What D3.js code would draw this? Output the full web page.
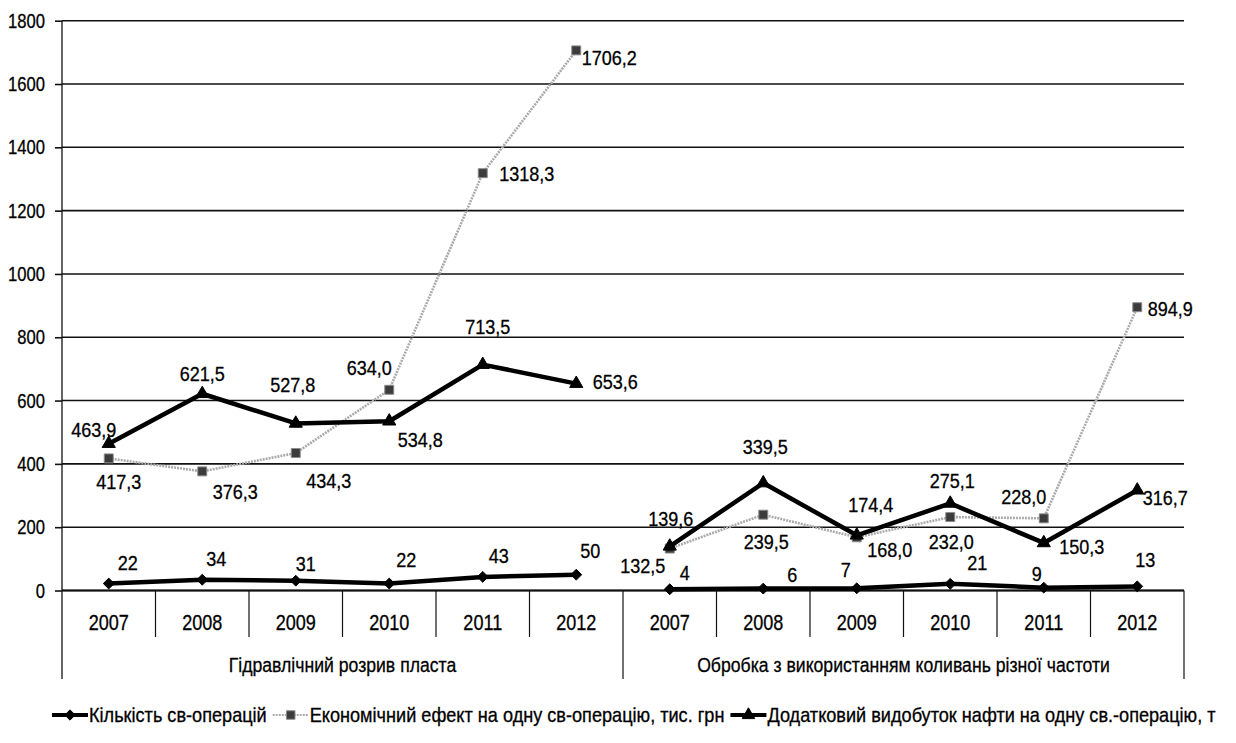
<!DOCTYPE html>
<html><head><meta charset="utf-8">
<script src="https://cdn.jsdelivr.net/npm/d3@7/dist/d3.min.js"></script>
<style>
body{margin:0;background:#fff}
text{font-family:"Liberation Sans Narrow","Arial Narrow","Liberation Sans",Arial,sans-serif;fill:#000;stroke:#000;stroke-width:0.3px}
</style>
</head><body>
<svg id="chart" width="1236" height="743"></svg>
<script>
// ---- data ----
const groups = ["Гідравлічний розрив пласта", "Обробка з використанням коливань різної частоти"];
const years = ["2007", "2008", "2009", "2010", "2011", "2012"];
const yTicks = [0, 200, 400, 600, 800, 1000, 1200, 1400, 1600, 1800];
const seriesNames = ["Кількість св-операцій", "Економічний ефект на одну св-операцію, тис. грн", "Додатковий видобуток нафти на одну св.-операцію, т"];
const countOps   = [22, 34, 31, 22, 43, 50, 4, 6, 7, 21, 9, 13];
const econEffect = [417.3, 376.3, 434.3, 634.0, 1318.3, 1706.2, 132.5, 239.5, 168.0, 232.0, 228.0, 894.9];
const extraOil   = [463.9, 621.5, 527.8, 534.8, 713.5, 653.6, 139.6, 339.5, 174.4, 275.1, 150.3, 316.7];

// ---- label placement (offset of label centre from its point) ----
const countLabelOff = [[19,-21],[14,-21],[10,-17],[17,-24],[16,-21],[14,-24],[15,-17],[29,-14],[-11,-19],[27,-21],[-7,-14],[8,-27]];
const econLabelOff  = [[10,23],[33,20],[33,28],[-20,-22],[44,0],[33,7],[-27,17],[3,27],[33,12],[1,25],[-20,-22],[33,1]];
const oilLabelOff   = [[-15,-14],[0,-20],[-3,-39],[31,18],[5,-38],[39,-2],[1,-28],[2,-36],[14,-31],[2,-23],[38,4],[28,7]];

// ---- layout ----
const L = 62, R = 1184, T = 20.7, B = 590.5;
const svg = d3.select("#chart");
const cats = d3.range(groups.length * years.length);
const x = d3.scaleBand().domain(cats).range([L, R]);
const y = d3.scaleLinear().domain([0, 1800]).range([B, T]);
const cx = i => x(i) + x.bandwidth() / 2;

// condensed text helper
function ctext(parent, px, py, str, size, sx, anchor) {
  const g = parent.append("g").attr("transform", `translate(${px},${py}) scale(${sx},1)`);
  return g.append("text").attr("x", 0).attr("y", 0).attr("dy", "0.35em")
    .attr("text-anchor", anchor || "middle").style("font-size", size + "px").text(str);
}

// gridlines
svg.append("g").selectAll("line").data(yTicks).join("line")
  .attr("x1", L).attr("x2", R).attr("y1", d => y(d)).attr("y2", d => y(d))
  .attr("stroke", "#111").attr("stroke-width", 1.6);

// y axis (ticks from d3 axis, labels condensed)
const yAxis = svg.append("g").attr("transform", `translate(${L},0)`)
  .call(d3.axisLeft(y).tickValues(yTicks).tickSizeInner(7).tickSizeOuter(0).tickFormat(""));
yAxis.select(".domain").remove();
yAxis.selectAll("line").attr("stroke", "#111").attr("stroke-width", 1.6);
const yLab = svg.append("g");
yTicks.forEach(t => ctext(yLab, 45, y(t), d3.format("d")(t), 20, 0.83, "end"));
svg.append("line").attr("x1", L).attr("x2", L).attr("y1", T).attr("y2", 679).attr("stroke", "#111").attr("stroke-width", 1.3);

// category axis
const xAxisG = svg.append("g");
xAxisG.append("line").attr("x1", L).attr("x2", R).attr("y1", B).attr("y2", B).attr("stroke", "#111").attr("stroke-width", 2);
cats.forEach(i => {
  const xb = x(i);
  const isGroupEdge = i % years.length === 0;
  if (i > 0) xAxisG.append("line").attr("x1", xb).attr("x2", xb).attr("y1", B).attr("y2", isGroupEdge ? 679 : 637)
    .attr("stroke", "#111").attr("stroke-width", 1.2);
  ctext(xAxisG, cx(i), 622, years[i % years.length], 21.5, 0.84);
});
xAxisG.append("line").attr("x1", R).attr("x2", R).attr("y1", B).attr("y2", 679).attr("stroke", "#111").attr("stroke-width", 1.2);
groups.forEach((g, gi) => {
  const x0 = x(gi * years.length), x1 = x(gi * years.length + years.length - 1) + x.bandwidth();
  ctext(xAxisG, (x0 + x1) / 2, 665, g, 21, 0.84);
});

// ---- series ----
const fmt1 = v => d3.format(".1f")(v).replace(".", ",");
const fmt0 = v => d3.format("d")(v);
const series = [
  {vals: countOps, fmt: fmt0, off: countLabelOff, color: "#000", width: 4.5, marker: d3.symbolDiamond2, msize: 75, mfill: "#000", mstroke: "#000", dash: null},
  {vals: econEffect, fmt: fmt1, off: econLabelOff, color: "#ababab", width: 2.6, marker: d3.symbolSquare, msize: 80, mfill: "#3c3c3c", mstroke: "#8a8a8a", dash: "2,1"},
  {vals: extraOil, fmt: fmt1, off: oilLabelOff, color: "#000", width: 4.5, marker: d3.symbolTriangle, msize: 75, mfill: "#000", mstroke: "#000", dash: null}
];
const line = d3.line().x(d => cx(d.i)).y(d => y(d.v));
[1, 0, 2].forEach(si => {
  const s = series[si];
  const g = svg.append("g");
  groups.forEach((_, gi) => {
    const pts = years.map((_, k) => ({i: gi * years.length + k, v: s.vals[gi * years.length + k]}));
    g.append("path").datum(pts).attr("d", line).attr("fill", "none")
      .attr("stroke", s.color).attr("stroke-width", s.width).attr("stroke-linejoin", "round")
      .attr("stroke-dasharray", s.dash);
  });
  g.selectAll("path.m").data(s.vals).join("path").attr("class", "m")
    .attr("transform", (v, i) => `translate(${cx(i)},${y(v)})`)
    .attr("d", d3.symbol().type(s.marker).size(s.msize))
    .attr("fill", s.mfill).attr("stroke", s.mstroke).attr("stroke-width", 1);
});
series.forEach(s => {
  const g = svg.append("g");
  s.vals.forEach((v, i) => ctext(g, cx(i) + s.off[i][0], y(v) + s.off[i][1], s.fmt(v), 21, 0.86));
});

// ---- legend ----
const legend = svg.append("g").attr("transform", "translate(52,715)");
let lx = 0;
series.forEach((s, si) => {
  const g = legend.append("g").attr("transform", `translate(${lx},0)`);
  g.append("line").attr("x1", 0).attr("x2", 36).attr("y1", 0).attr("y2", 0)
    .attr("stroke", s.color).attr("stroke-width", s.width * 0.85).attr("stroke-dasharray", s.dash);
  g.append("path").attr("transform", "translate(18,0)")
    .attr("d", d3.symbol().type(s.marker).size(s.msize * 0.9))
    .attr("fill", s.mfill).attr("stroke", s.mstroke);
  const t = ctext(g, 37, 0, seriesNames[si], 19.5, 0.93, "start");
  lx += 37 + t.node().getComputedTextLength() * 0.93 + 6;
});
</script>
</body></html>
